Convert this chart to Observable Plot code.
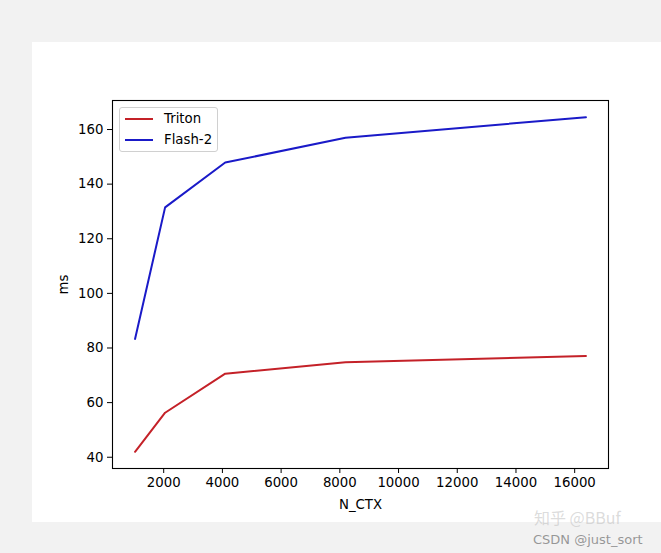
<!DOCTYPE html>
<html>
<head>
<meta charset="utf-8">
<script src="https://cdn.jsdelivr.net/npm/d3@7"></script>
<script src="https://cdn.jsdelivr.net/npm/@observablehq/plot@0.6"></script>
<style>
  html, body { margin: 0; padding: 0; background: #f2f2f2; width: 661px; height: 553px; overflow: hidden; }
  #panel { position: absolute; left: 32px; top: 42px; width: 629px; height: 480px; background: #fff; }
  #chart { position: absolute; left: 0; top: 0; }
  #legend { position: absolute; left: 119px; top: 107px; width: 99px; height: 45px; border: 1px solid #d0d0d0; border-radius: 3px; background: rgba(255,255,255,0.8); font-family: "DejaVu Sans", sans-serif; font-size: 13.3px; color: #000; box-sizing: border-box; }
  .li { position: absolute; left: 0; height: 20px; display: flex; align-items: center; }
  .sw { position: absolute; left: 5px; width: 28px; height: 2px; }
  .lt { position: absolute; left: 44px; white-space: nowrap; line-height: 20px; }
  .wm { position: absolute; font-family: "Noto Sans CJK SC", "DejaVu Sans", sans-serif; white-space: nowrap; line-height: 1; }
</style>
</head>
<body>
<div id="panel"></div>
<div id="chart"></div>
<div id="legend"></div>
<div class="wm" style="left:534px; top:509px; font-size:16px; height:16px; color:rgba(190,190,190,0.55);">知乎 @BBuf</div>
<div class="wm" style="left:533px; top:533px; font-size:13px; height:13px; color:rgba(120,120,120,0.75); font-family:'DejaVu Sans', sans-serif;">CSDN @just_sort</div>
<script>
const nCtx = [1024, 2048, 4096, 8192, 16384];
const triton = [42.0, 56.3, 70.6, 74.8, 77.1];
const flash2 = [83.3, 131.5, 147.9, 157.0, 164.5];
const seriesNames = ["Triton", "Flash-2"];
const seriesColors = ["#c42128", "#1a1ac8"];
const xTicks = [2000, 4000, 6000, 8000, 10000, 12000, 14000, 16000];
const yTicks = [40, 60, 80, 100, 120, 140, 160];

const data = [];
nCtx.forEach((n, i) => {
  data.push({series: seriesNames[0], x: n, y: triton[i]});
  data.push({series: seriesNames[1], x: n, y: flash2[i]});
});

const plot = Plot.plot({
  width: 661,
  height: 553,
  marginLeft: 112,
  marginRight: 53,
  marginTop: 100,
  marginBottom: 85,
  style: {background: "transparent", fontFamily: "'DejaVu Sans', sans-serif", fontSize: "13.3px", color: "#000"},
  x: {domain: [256, 17152], ticks: xTicks, tickFormat: d3.format("d"), tickSize: 5, tickPadding: 4, label: "N_CTX", labelAnchor: "center", labelArrow: "none", labelOffset: 40},
  y: {domain: [35.875, 170.625], ticks: yTicks, tickFormat: d3.format("d"), tickSize: 5, tickPadding: 4, label: "ms", labelAnchor: "center", labelArrow: "none", labelOffset: 54},
  color: {domain: seriesNames, range: seriesColors},
  marks: [
    Plot.line(data, {x: "x", y: "y", z: "series", stroke: "series", strokeWidth: 2}),
    Plot.frame({stroke: "#000", strokeWidth: 1.1})
  ]
});
document.getElementById("chart").appendChild(plot);

const legend = document.getElementById("legend");
seriesNames.forEach((name, i) => {
  const row = document.createElement("div");
  row.className = "li";
  row.style.top = (1 + i * 21) + "px";
  row.style.width = "100%";
  const sw = document.createElement("div");
  sw.className = "sw";
  sw.style.background = seriesColors[i];
  sw.style.top = "9px";
  const lt = document.createElement("div");
  lt.className = "lt";
  lt.textContent = name;
  row.appendChild(sw);
  row.appendChild(lt);
  legend.appendChild(row);
});
</script>
</body>
</html>
